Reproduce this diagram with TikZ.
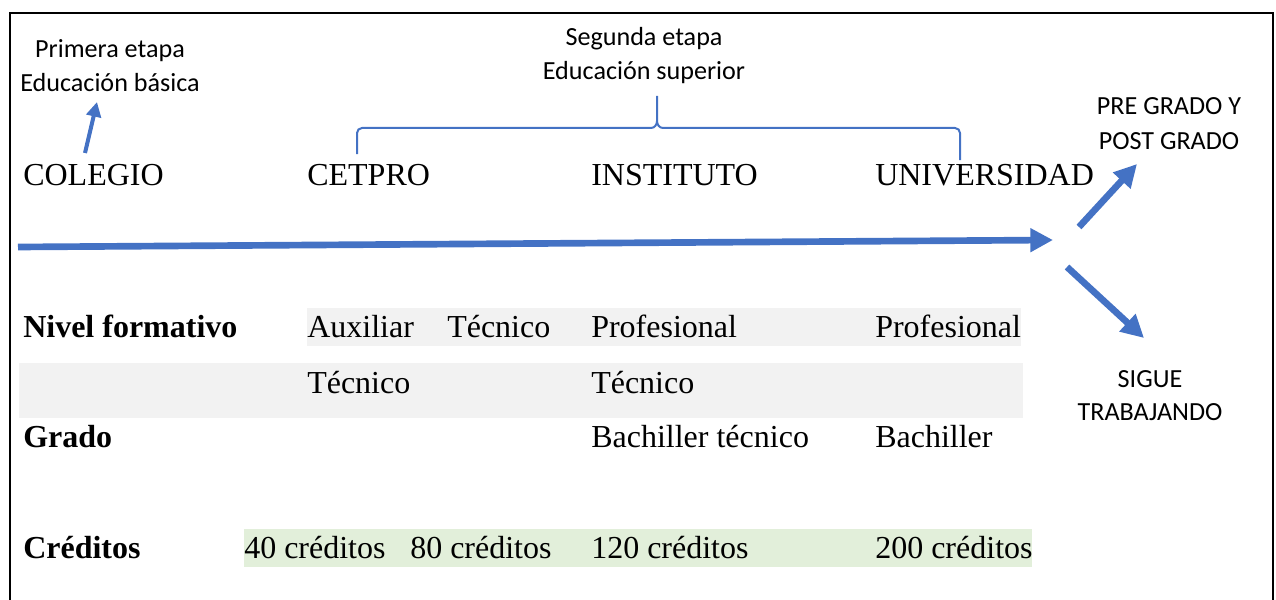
\documentclass[tikz,border=0pt]{standalone}
\usepackage{fontspec}
\setmainfont{Liberation Serif}
\newfontfamily\calibri{Carlito}
\usetikzlibrary{arrows.meta}

\definecolor{arrowblue}{HTML}{4472C4}
\definecolor{bandgray}{HTML}{F2F2F2}
\definecolor{bandgreen}{HTML}{E2EFDA}

\newcommand{\rowband}[5]{
	\fill[#5] (#1, #3) rectangle (#2, #4);
}

\tikzset{
	serif/.style={anchor=base west, inner sep=0pt, font=\fontsize{24}{28}\selectfont},
	serifbold/.style={serif, font=\fontsize{24}{28}\selectfont\bfseries},
	note/.style={anchor=base, inner sep=0pt, font=\calibri\fontsize{19.6}{24}\selectfont},
	bigarrow/.style={draw=arrowblue, line width=5pt, -{Triangle[length=17pt,width=17pt]}},
	smallarrow/.style={draw=arrowblue, line width=3pt, -{Triangle[length=11pt,width=11pt]}}
}

\begin{document}
\begin{tikzpicture}[x=0.75pt, y=-0.75pt]
\useasboundingbox (0,0) rectangle (1276,599);
\draw[line width=1.5pt] (10,610) -- (10,13) -- (1273,13) -- (1273,610);

\pgfmathsetmacro{\colA}{23}
\pgfmathsetmacro{\colB}{307}
\pgfmathsetmacro{\colC}{591}
\pgfmathsetmacro{\colD}{875}
\pgfmathsetmacro{\rowTop}{185}
\pgfmathsetmacro{\rowA}{337}
\pgfmathsetmacro{\rowB}{393}
\pgfmathsetmacro{\rowC}{447}
\pgfmathsetmacro{\rowD}{558}

\rowband{307}{1021}{308}{346}{bandgray}
\rowband{19}{1023}{363}{418}{bandgray}
\rowband{244}{1032}{529}{567}{bandgreen}

\node[note] (etapaA) at (110,58) {Primera etapa};
\node[note] (basica) at (110,92) {Educación básica};
\node[note] (etapaB) at (644,46) {Segunda etapa};
\node[note] (superior) at (644,80) {Educación superior};

\node[serif] (colegio) at (\colA,\rowTop) {COLEGIO};
\node[serif] (cetpro) at (\colB,\rowTop) {CETPRO};
\node[serif] (instituto) at (\colC,\rowTop) {INSTITUTO};
\node[serif] (universidad) at (\colD,\rowTop) {UNIVERSIDAD};

\node[note] (pregrado) at (1169,115) {PRE GRADO Y};
\node[note] (postgrado) at (1169,150) {POST GRADO};
\node[note] (sigue) at (1150,387) {SIGUE};
\node[note] (trabajando) at (1150,420) {TRABAJANDO};

\node[serifbold] (nivel) at (\colA,\rowA) {Nivel formativo};
\node[serif] (auxiliar) at (\colB,\rowA) {Auxiliar};
\node[serif] (tecA) at (447,\rowA) {Técnico};
\node[serif] (profA) at (\colC,\rowA) {Profesional};
\node[serif] (profB) at (\colD,\rowA) {Profesional};
\node[serif] (tecB) at (\colB,\rowB) {Técnico};
\node[serif] (tecC) at (\colC,\rowB) {Técnico};
\node[serifbold] (grado) at (\colA,\rowC) {Grado};
\node[serif] (bachA) at (\colC,\rowC) {Bachiller técnico};
\node[serif] (bachB) at (\colD,\rowC) {Bachiller};
\node[serifbold] (creditos) at (\colA,\rowD) {Créditos};
\node[serif] (credA) at (244,\rowD) {40 créditos};
\node[serif] (credB) at (410,\rowD) {80 créditos};
\node[serif] (credC) at (\colC,\rowD) {120 créditos};
\node[serif] (credD) at (\colD,\rowD) {200 créditos};

\coordinate (colegioIni) at (85,153);
\coordinate (colegioFin) at (97,102);
\coordinate (lineaIni) at (18,247);
\coordinate (lineaFin) at (1053,240);
\coordinate (ramaAIni) at (1079,227);
\coordinate (ramaAFin) at (1137,164);
\coordinate (ramaBIni) at (1067,267);
\coordinate (ramaBFin) at (1144,338);

\draw[smallarrow] (colegioIni) -- (colegioFin);
\draw[bigarrow] (lineaIni) -- (lineaFin);
\draw[bigarrow] (ramaAIni) -- (ramaAFin);
\draw[bigarrow] (ramaBIni) -- (ramaBFin);

\draw[arrowblue, line width=1.5pt] (357,154) -- (357,133) to[out=90,in=180] (362,128)
	-- (651,128) to[out=0,in=-90] (657,121) -- (657,96);
\draw[arrowblue, line width=1.5pt] (657,121) to[out=-90,in=180] (663,128)
	-- (955,128) to[out=0,in=90] (960,133) -- (960,160);
\end{tikzpicture}
\end{document}
